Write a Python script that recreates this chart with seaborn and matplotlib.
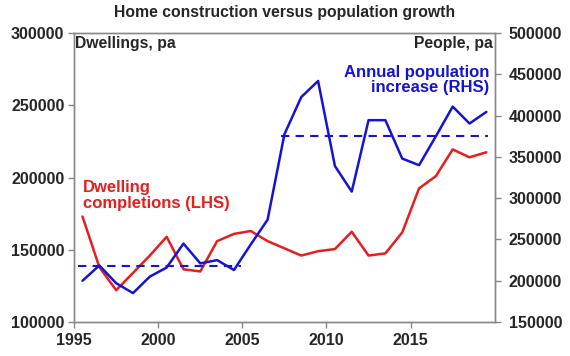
import numpy as np
import pandas as pd
import seaborn as sns
import matplotlib.pyplot as plt

# data (mid-year points)
years = list(range(1995, 2020))
dwellings = [173000, 138000, 122000, 134000, 146000, 159000, 136500, 135000, 156000, 161000,
             163000, 156000, 151000, 146000, 149000, 150500, 162500, 146000, 147500, 162000,
             192500, 201000, 219500, 214000, 217500]
population = [200000, 218500, 197000, 185000, 205000, 216000, 245000, 221000, 225000, 213000,
              244000, 274000, 377500, 422500, 442000, 339000, 308000, 394500, 394500, 348000,
              340000, 375000, 411000, 390500, 404500]
avg_early = 218000
avg_late = 375500

RED = '#e61e1e'
BLUE = '#1414d2'

sns.set_style('white')
plt.rcParams['font.family'] = ['Liberation Sans', 'DejaVu Sans']
plt.rcParams['font.weight'] = 'bold'

df = pd.DataFrame({'year': np.array(years) + 0.5,
                   'dwellings': dwellings,
                   'population': population})

fig = plt.figure(figsize=(5.7, 3.56), dpi=100)
ax = fig.add_axes([0.13, 0.0955, 0.738, 0.8115])
ax2 = ax.twinx()

sns.lineplot(data=df, x='year', y='dwellings', ax=ax, color=RED, lw=1.8)
sns.lineplot(data=df, x='year', y='population', ax=ax2, color=BLUE, lw=1.8)

# average lines (RHS)
ax2.plot([1995.25, 2004.9], [avg_early, avg_early], color=BLUE, lw=1.5, ls=(0, (4, 3)))
ax2.plot([2007.3, 2019.6], [avg_late, avg_late], color=BLUE, lw=1.5, ls=(0, (4, 3)))

ax.set_xlim(1995, 2020)
ax.set_ylim(100000, 300000)
ax2.set_ylim(150000, 500000)
ax.set_xticks([1995, 2000, 2005, 2010, 2015])
ax.set_yticks(range(100000, 300001, 50000))
ax2.set_yticks(range(150000, 500001, 50000))
ax.set_xlabel('')
ax.set_ylabel('')
ax2.set_ylabel('')

for a in (ax, ax2):
    a.tick_params(axis='both', labelsize=11.5, length=4, width=1, color='#888888', direction='out')
    for s in a.spines.values():
        s.set_color('#888888')
        s.set_linewidth(1)
ax.tick_params(axis='y', left=True, pad=3)
ax.tick_params(axis='x', bottom=True, pad=4)
ax2.tick_params(axis='y', right=True, pad=6)

fig.text(0.5, 0.965, 'Home construction versus population growth', ha='center', va='center',
         fontsize=11.3, fontweight='bold')
ax.text(0.003, 0.99, 'Dwellings, pa', transform=ax.transAxes, ha='left', va='top',
        fontsize=11.3, fontweight='bold')
ax.text(0.995, 0.99, 'People, pa', transform=ax.transAxes, ha='right', va='top',
        fontsize=11.3, fontweight='bold')
ax.text(0.988, 0.89, 'Annual population\nincrease (RHS)', transform=ax.transAxes,
        ha='right', va='top', fontsize=12, fontweight='bold', color=BLUE, linespacing=1.05)
ax.text(0.02, 0.49, 'Dwelling\ncompletions (LHS)', transform=ax.transAxes,
        ha='left', va='top', fontsize=12, fontweight='bold', color=RED, linespacing=1.05)

fig.savefig('out.png', dpi=100)
